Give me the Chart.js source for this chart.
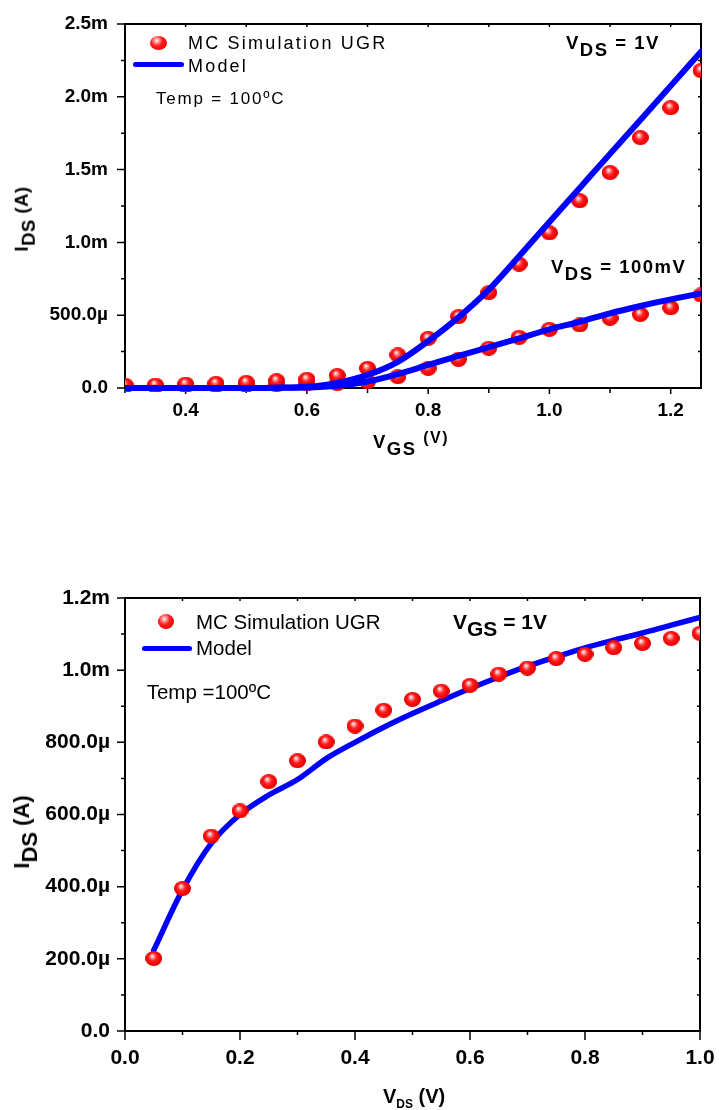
<!DOCTYPE html>
<html>
<head>
<meta charset="utf-8">
<script src="https://cdn.jsdelivr.net/npm/chart.js@4.4.1/dist/chart.umd.min.js"></script>
<style>
  html, body { margin: 0; padding: 0; background: #fff; }
  #page { position: relative; width: 719px; height: 1110px; overflow: hidden;
          font-family: "Liberation Sans", Arial, Helvetica, sans-serif; color: #000; }
  canvas { position: absolute; left: 0; }
  .txt { position: absolute; white-space: nowrap; line-height: 1; }
  .b { font-weight: bold; }
  .sub { position: relative; }
  .sphere { position: absolute; border-radius: 50%;
            background: radial-gradient(ellipse at 40% 33%, #ffffff 0%, #ffb0b0 12%, #ff2020 40%, #f00000 75%, #c00000 100%); }
  .bar { position: absolute; background: #0000ff; border-radius: 3px; }
  .rot { position: absolute; transform: translate(-50%, -50%) rotate(-90deg); white-space: nowrap; line-height: 1; font-weight: bold; }
</style>
</head>
<body>
<div id="page">
  <canvas id="chartVgs" width="719" height="470" style="top:0"></canvas>
  <canvas id="chartVds" width="719" height="550" style="top:560px"></canvas>

  <!-- top chart texts -->
  <div class="sphere" style="left:150px; top:36px; width:17px; height:14px"></div>
  <div class="txt" style="left:188px; top:34px; font-size:18px; letter-spacing:2.2px">MC Simulation UGR</div>
  <div class="bar" style="left:133px; top:62px; width:51px; height:4.5px"></div>
  <div class="txt" style="left:188px; top:56.5px; font-size:18px; letter-spacing:2.2px">Model</div>
  <div class="txt" style="left:156px; top:90px; font-size:17px; letter-spacing:1.8px">Temp = 100ºC</div>
  <div class="txt b" style="left:566px; top:33.6px; font-size:18.5px; letter-spacing:1.5px">V<span class="sub" style="top:7px">DS</span> = 1V</div>
  <div class="txt b" style="left:551px; top:257.6px; font-size:18.5px; letter-spacing:1.5px">V<span class="sub" style="top:7.4px">DS</span> = 100mV</div>
  <div class="txt b" style="left:373px; top:432.6px; font-size:18.5px; letter-spacing:1.5px">V<span class="sub" style="top:7.7px">GS</span> <span class="sub" style="top:-5px; font-size:16px">(V)</span></div>
  <div class="rot" style="left:22px; top:219px; font-size:18.5px; letter-spacing:0.5px">I<span class="sub" style="top:7px">DS</span> (A)</div>

  <!-- bottom chart texts -->
  <div class="sphere" style="left:157.7px; top:614.2px; width:16px; height:15px"></div>
  <div class="txt" style="left:196px; top:611.6px; font-size:20.5px">MC Simulation UGR</div>
  <div class="bar" style="left:141.7px; top:645.7px; width:50px; height:5.3px"></div>
  <div class="txt" style="left:196px; top:637.6px; font-size:20.5px">Model</div>
  <div class="txt" style="left:146.7px; top:681.6px; font-size:20.5px">Temp =100ºC</div>
  <div class="txt b" style="left:453px; top:610.5px; font-size:21px">V<span class="sub" style="top:7.7px">GS</span> = 1V</div>
  <div class="txt b" style="left:383px; top:1086px; font-size:20px">V<span class="sub" style="top:5px; font-size:12px">DS</span> (V)</div>
  <div class="rot" style="left:22px; top:831.5px; font-size:22px">I<span class="sub" style="top:8px">DS</span> (A)</div>
</div>

<script>
// ---- Id-Vgs (top chart), current in µA ----
const vgsValues = [0.3, 0.35, 0.4, 0.45, 0.5, 0.55, 0.6, 0.65, 0.7, 0.75, 0.8, 0.85, 0.9, 0.95, 1.0, 1.05, 1.1, 1.15, 1.2, 1.25];
const mcVds1V = [20, 20, 27, 32, 39, 50, 60, 85, 135, 227, 341, 490, 655, 850, 1065, 1286, 1480, 1720, 1925, 2180];
const mcVds100mV = [12, 12, 14, 16, 18, 22, 28, 30, 43, 78, 135, 197, 273, 348, 403, 433, 479, 506, 551, 639];
const modelVds1V = [0, 0, 0, 0, 0, 2, 8, 35, 90, 180, 322, 485, 675, 905, 1140, 1374, 1608, 1840, 2075, 2310];
const modelVds100mV = [0, 0, 0, 0, 0, 1, 3, 15, 45, 96, 158, 220, 280, 341, 403, 455, 513, 563, 609, 650];

const vgsTicks = [0.4, 0.6, 0.8, 1.0, 1.2];
const vgsMinorTicks = [0.3, 0.5, 0.7, 0.9, 1.1];
const vgsTopTicks = [0.3, 0.4, 0.5, 0.6, 0.7, 0.8, 0.9, 1.0, 1.1, 1.2];
const idsTopTicks = [0, 500, 1000, 1500, 2000, 2500];
const idsTopLabels = ['0.0', '500.0µ', '1.0m', '1.5m', '2.0m', '2.5m'];
const idsTopMinor = [250, 750, 1250, 1750, 2250];

// ---- Id-Vds (bottom chart), current in µA ----
const vdsValues = [0.05, 0.1, 0.15, 0.2, 0.25, 0.3, 0.35, 0.4, 0.45, 0.5, 0.55, 0.6, 0.65, 0.7, 0.75, 0.8, 0.85, 0.9, 0.95, 1.0];
const mcVgs1V = [201, 395, 540, 610, 691, 749, 801, 845, 889, 919, 942, 958, 989, 1006, 1032, 1044, 1062, 1074, 1088, 1102];
const modelVgs1V = [224, 391, 520, 600, 654, 697, 755, 800, 842, 880, 915, 949, 981, 1011, 1037, 1062, 1083, 1103, 1125, 1146];

const vdsTicks = [0, 0.2, 0.4, 0.6, 0.8, 1.0];
const vdsMinorTicks = [0.1, 0.3, 0.5, 0.7, 0.9];
const idsBotTicks = [0, 200, 400, 600, 800, 1000, 1200];
const idsBotLabels = ['0.0', '200.0µ', '400.0µ', '600.0µ', '800.0µ', '1.0m', '1.2m'];
const idsBotMinor = [100, 300, 500, 700, 900, 1100];

const FONT = '"Liberation Sans", Arial, Helvetica, sans-serif';

// bola vermelha usada como marcador
function makeSphere(w, h) {
    const c = document.createElement('canvas');
    c.width = w; c.height = h;
    const g = c.getContext('2d');
    const grad = g.createRadialGradient(w * 0.4, h * 0.33, 0.3, w * 0.5, h * 0.5, w * 0.55);
    grad.addColorStop(0, '#ffffff');
    grad.addColorStop(0.12, '#ffb0b0');
    grad.addColorStop(0.4, '#ff2020');
    grad.addColorStop(0.75, '#f00000');
    grad.addColorStop(1, '#c00000');
    g.fillStyle = grad;
    g.beginPath();
    g.ellipse(w / 2, h / 2, w / 2, h / 2, 0, 0, Math.PI * 2);
    g.fill();
    return c;
}

const toXY = (xs, ys) => xs.map((x, i) => ({ x, y: ys[i] }));

// moldura + ticks maiores/menores desenhados com as escalas do Chart.js
const frameTicks = {
    id: 'frameTicks',
    beforeDatasetsDraw(chart, args, o) {
        const { ctx, chartArea: a, scales: { x, y } } = chart;
        ctx.save();
        ctx.strokeStyle = '#000';
        ctx.lineWidth = 2;
        ctx.strokeRect(a.left, a.top, a.right - a.left, a.bottom - a.top);
        ctx.lineWidth = 1.5;
        ctx.beginPath();
        const seg = (x1, y1, x2, y2) => { ctx.moveTo(x1, y1); ctx.lineTo(x2, y2); };
        o.xMajor.forEach(v => { const p = x.getPixelForValue(v); seg(p, a.bottom, p, a.bottom + o.xMajorLen); });
        o.xMinor.forEach(v => { const p = x.getPixelForValue(v); seg(p, a.bottom, p, a.bottom + o.xMinorLen); });
        o.xTop.forEach(v => { const p = x.getPixelForValue(v); seg(p, a.top, p, a.top + 3); });
        o.yMajor.forEach(v => { const p = y.getPixelForValue(v); seg(a.left, p, a.left - 8, p); seg(a.right, p, a.right - 3, p); });
        o.yMinor.forEach(v => { const p = y.getPixelForValue(v); seg(a.left, p, a.left - 4, p); seg(a.right, p, a.right - 3, p); });
        ctx.stroke();
        ctx.restore();
    }
};

function makeChart(id, cfg) {
    const ctx = document.getElementById(id).getContext('2d');
    return new Chart(ctx, {
        type: 'scatter',
        data: { datasets: cfg.datasets },
        options: {
            responsive: false,
            animation: false,
            layout: { padding: cfg.padding },
            plugins: {
                legend: { display: false },
                tooltip: { enabled: false },
                frameTicks: cfg.frame
            },
            scales: {
                x: {
                    type: 'linear',
                    min: cfg.xMin, max: cfg.xMax,
                    border: { display: false },
                    grid: { display: false, drawTicks: false },
                    afterBuildTicks: s => { s.ticks = cfg.xTicks.map(v => ({ value: v })); },
                    afterFit: s => { s.height = cfg.xHeight; s.paddingLeft = 0; s.paddingRight = 0; },
                    ticks: {
                        padding: cfg.xPad, color: '#000',
                        font: { family: FONT, size: cfg.fontSize, weight: 'bold' },
                        callback: v => v.toFixed(1)
                    }
                },
                y: {
                    type: 'linear',
                    min: cfg.yMin, max: cfg.yMax,
                    border: { display: false },
                    grid: { display: false, drawTicks: false },
                    afterBuildTicks: s => { s.ticks = cfg.yTicks.map(v => ({ value: v })); },
                    afterFit: s => { s.width = 125; s.paddingTop = 0; s.paddingBottom = 0; },
                    ticks: {
                        padding: cfg.yPad, color: '#000',
                        font: { family: FONT, size: cfg.fontSize, weight: 'bold' },
                        callback: (v, i) => cfg.yLabels[i]
                    }
                }
            }
        },
        plugins: [frameTicks]
    });
}

const sphereTop = makeSphere(17, 15);
const sphereBot = makeSphere(17, 15);
const lineClip = { left: 0, right: 0, top: 0, bottom: 3 };
const dotClip = { left: 0, right: 0, top: 0, bottom: 4 };

// linhas primeiro -> desenhadas por cima das bolas
makeChart('chartVgs', {
    padding: { left: 0, right: 18, top: 24, bottom: 0 },
    xMin: 0.3, xMax: 1.25, yMin: 0, yMax: 2500,
    xTicks: vgsTicks, yTicks: idsTopTicks, yLabels: idsTopLabels,
    xHeight: 82, xPad: 11, yPad: 17, fontSize: 19,
    frame: { xMajor: vgsTicks, xMinor: vgsMinorTicks, xTop: vgsTopTicks, yMajor: idsTopTicks, yMinor: idsTopMinor, xMajorLen: 6, xMinorLen: 5 },
    datasets: [
        { label: 'Model', data: toXY(vgsValues, modelVds1V), showLine: true, borderColor: '#0000ff', borderWidth: 6,
          pointRadius: 0, cubicInterpolationMode: 'monotone', borderCapStyle: 'round', clip: lineClip },
        { label: 'Model', data: toXY(vgsValues, modelVds100mV), showLine: true, borderColor: '#0000ff', borderWidth: 6,
          pointRadius: 0, cubicInterpolationMode: 'monotone', borderCapStyle: 'round', clip: lineClip },
        { label: 'MC Simulation UGR', data: toXY(vgsValues, mcVds1V), pointStyle: sphereTop, pointRadius: 8, clip: dotClip },
        { label: 'MC Simulation UGR', data: toXY(vgsValues, mcVds100mV), pointStyle: sphereTop, pointRadius: 8, clip: dotClip }
    ]
});

// aqui as bolas ficam por cima da linha
makeChart('chartVds', {
    padding: { left: 0, right: 19, top: 38, bottom: 0 },
    xMin: 0, xMax: 1.0, yMin: 0, yMax: 1200,
    xTicks: vdsTicks, yTicks: idsBotTicks, yLabels: idsBotLabels,
    xHeight: 79, xPad: 15, yPad: 15, fontSize: 21,
    frame: { xMajor: vdsTicks, xMinor: vdsMinorTicks, xTop: vdsTicks.concat(vdsMinorTicks), yMajor: idsBotTicks, yMinor: idsBotMinor, xMajorLen: 9, xMinorLen: 4 },
    datasets: [
        { label: 'MC Simulation UGR', data: toXY(vdsValues, mcVgs1V), pointStyle: sphereBot, pointRadius: 8, clip: dotClip },
        { label: 'Model', data: toXY(vdsValues, modelVgs1V), showLine: true, borderColor: '#0000ff', borderWidth: 5.5,
          pointRadius: 0, cubicInterpolationMode: 'monotone', borderCapStyle: 'round', clip: lineClip }
    ]
});
</script>
</body>
</html>
